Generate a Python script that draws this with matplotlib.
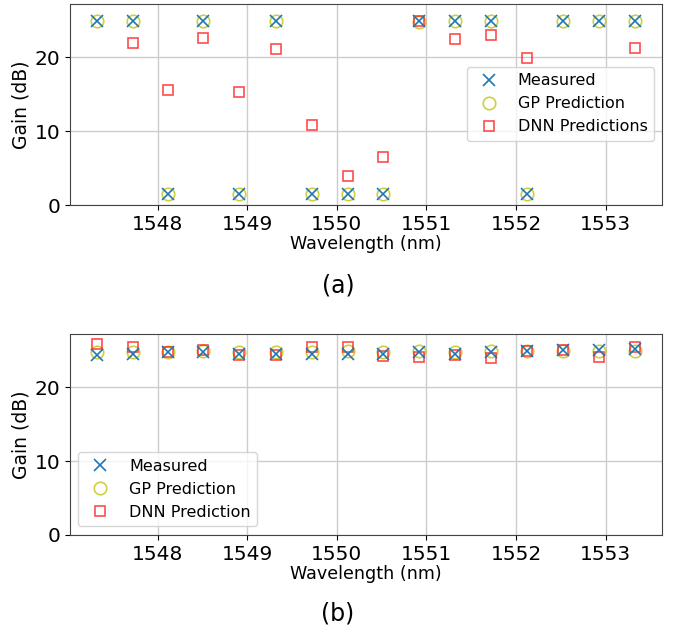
import numpy as np
import matplotlib
matplotlib.use("Agg")
import matplotlib.pyplot as plt

# channel wavelengths (nm), 100 GHz grid
wavelength = [1547.32, 1547.72, 1548.11, 1548.51, 1548.91, 1549.32, 1549.72, 1550.12,
              1550.52, 1550.92, 1551.32, 1551.72, 1552.12, 1552.52, 1552.93, 1553.33]

# (a) gain per channel (dB)
meas_a = [24.9, 24.9, 1.5, 24.9, 1.5, 24.9, 1.5, 1.5, 1.5, 24.9, 24.9, 24.9, 1.5, 24.9, 24.9, 24.9]
gp_a = [24.9, 24.9, 1.5, 24.9, 1.5, 24.9, 1.5, 1.5, 1.5, 24.8, 24.9, 24.9, 1.5, 24.9, 24.9, 24.9]
dnn_a = [np.nan, 21.9, 15.6, 22.6, 15.3, 21.1, 10.85, 3.96, 6.45, 24.9, 22.5, 23.0, 19.9, np.nan, np.nan, 21.3]

# (b) gain per channel (dB)
meas_b = [24.4, 24.5, 24.8, 24.8, 24.5, 24.5, 24.5, 24.5, 24.5, 24.7, 24.5, 24.7, 24.9, 25.0, 25.0, 25.2]
gp_b = [24.7, 24.7, 24.8, 24.9, 24.8, 24.8, 24.8, 24.9, 24.8, 24.9, 24.8, 24.9, 24.9, 24.9, 24.9, 24.9]
dnn_b = [25.8, 25.4, 24.8, 25.0, 24.3, 24.4, 25.5, 25.5, 24.2, 24.1, 24.4, 24.0, 24.9, 25.1, 24.1, 25.5]

W, H = 683, 633
fig = plt.figure(figsize=(W/100, H/100), dpi=100)

def make_panel(top_px, meas, gp, dnn, dnn_label, legend_loc, caption, caption_y):
    ax = fig.add_axes([70/W, (H-top_px-201)/H, 592/W, 201/H])
    ax.plot(wavelength, gp, linestyle='none', marker='o', markersize=9, mfc='none',
            mec='y', alpha=0.75, mew=1.2, label='GP Prediction', zorder=2)
    ax.plot(wavelength, dnn, linestyle='none', marker='s', markersize=7.5, mfc='none',
            mec='r', alpha=0.7, mew=1.2, label=dnn_label, zorder=3)
    ax.plot(wavelength, meas, linestyle='none', marker='x', markersize=9, color='tab:blue',
            mew=1.2, label='Measured', zorder=4)
    ax.set_xlim(1547.02, 1553.63)
    ax.set_ylim(0, 27.2)
    ax.set_yticks([0, 10, 20])
    ax.set_xticks([1548, 1549, 1550, 1551, 1552, 1553])
    ax.tick_params(labelsize=14.5)
    ax.grid(True, color='#cccccc', linewidth=1)
    ax.set_axisbelow(True)
    for s in ax.spines.values():
        s.set_color('#444444')
    ax.set_xlabel('Wavelength (nm)', fontsize=12.6, labelpad=1)
    ax.set_ylabel('Gain (dB)', fontsize=13.5, labelpad=3)
    h, l = ax.get_legend_handles_labels()
    order = [2, 0, 1]
    ax.legend([h[i] for i in order], [l[i] for i in order], fontsize=11.5, **legend_loc)
    fig.text(0.495, caption_y, caption, fontsize=17, ha='center', va='center')
    return ax

make_panel(4, meas_a, gp_a, dnn_a, 'DNN Predictions',
           dict(loc='upper right', bbox_to_anchor=(1.0, 0.726)), '(a)', 1 - 285/H)
make_panel(334, meas_b, gp_b, dnn_b, 'DNN Prediction',
           dict(loc='lower left', bbox_to_anchor=(0.0, 0.005)), '(b)', 1 - 613/H)

plt.savefig('out.png', dpi=100)
